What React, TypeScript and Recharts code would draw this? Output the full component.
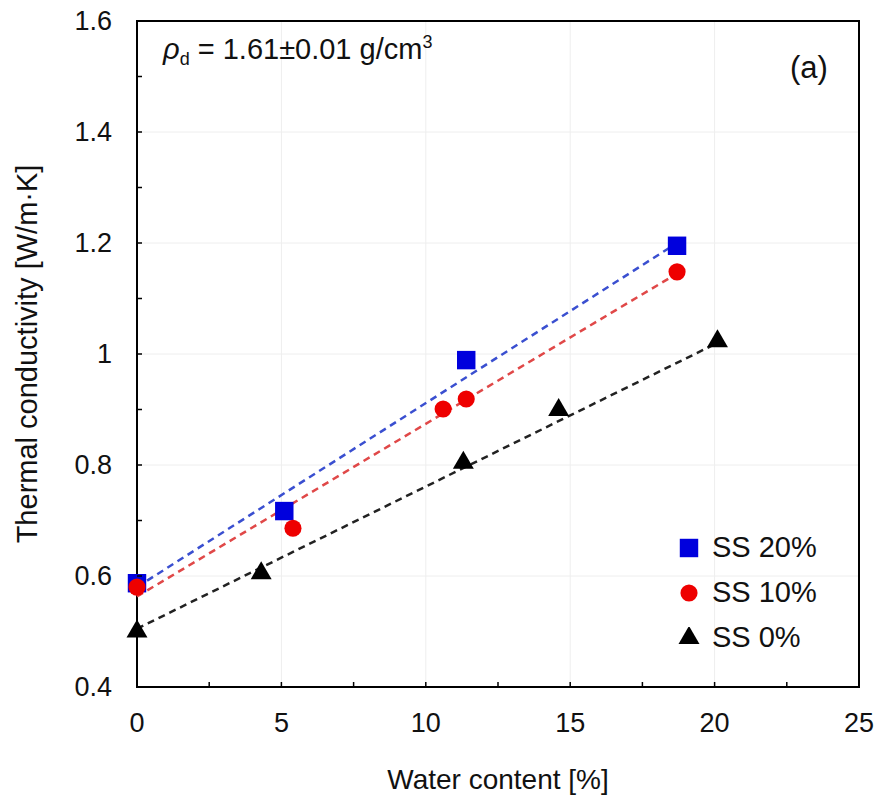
import {
  ScatterChart,
  Scatter,
  XAxis,
  YAxis,
  CartesianGrid,
  ReferenceArea,
  Legend,
  Symbols,
} from "recharts";

// measured points
const ss20X = [0, 5.1, 11.4, 18.7];
const ss20Y = [0.587, 0.717, 0.989, 1.195];
const ss10X = [0, 5.4, 10.6, 11.4, 18.7];
const ss10Y = [0.58, 0.686, 0.901, 0.919, 1.148];
const ss0X = [0, 4.3, 11.3, 14.6, 20.1];
const ss0Y = [0.5, 0.605, 0.804, 0.899, 1.023];

// dashed fit lines (end points)
const fit20X = [0, 18.7];
const fit20Y = [0.58, 1.2];
const fit10X = [0, 18.7];
const fit10Y = [0.563, 1.145];
const fit0X = [0, 20.1];
const fit0Y = [0.505, 1.02];

const xTicks = [0, 2.5, 5, 7.5, 10, 12.5, 15, 17.5, 20, 22.5, 25];
const yTicks = [0.4, 0.5, 0.6, 0.7, 0.8, 0.9, 1.0, 1.1, 1.2, 1.3, 1.4, 1.5, 1.6];
const xGrid = [5, 10, 15, 20];
const yGrid = [0.6, 0.8, 1.0, 1.2, 1.4];

const series = [
  { name: "SS 20%", color: "#0000dd", shape: "square", size: 340 },
  { name: "SS 10%", color: "#ee0000", shape: "circle", size: 230 },
  { name: "SS 0%", color: "#000000", shape: "triangle", size: 190 },
];

const FONT = "'Liberation Sans', Arial, sans-serif";

const pts = (xs: number[], ys: number[]) => xs.map((x, i) => ({ x, y: ys[i] }));

const YTick = (props: any) => {
  const { x, y, payload } = props;
  const v = payload.value;
  const major = Math.round(v * 10) % 2 === 0;
  return (
    <g>
      <line x1={x} x2={x + 5} y1={y} y2={y} stroke="#000" strokeWidth={1.5} />
      {major && (
        <text
          x={x - 25}
          y={y}
          textAnchor="end"
          dominantBaseline="central"
          fontSize={27}
          fontFamily={FONT}
          fill="#111"
        >
          {String(Math.round(v * 10) / 10)}
        </text>
      )}
    </g>
  );
};

const XTick = (props: any) => {
  const { x, y, payload } = props;
  const v = payload.value;
  const major = v % 5 === 0;
  return (
    <g>
      <line x1={x} x2={x} y1={y} y2={y - 5} stroke="#000" strokeWidth={1.5} />
      {major && (
        <text x={x} y={y + 45} textAnchor="middle" fontSize={27} fontFamily={FONT} fill="#111">
          {v}
        </text>
      )}
    </g>
  );
};

const noDot = () => <g />;

const marker = (s: (typeof series)[number]) => (p: any) => (
  <Symbols cx={p.cx} cy={p.cy} type={s.shape as any} size={s.size} fill={s.color} />
);

const LegendBox = () => (
  <div style={{ fontFamily: FONT, fontSize: 29, color: "#111" }}>
    {series.map((s) => (
      <div key={s.name} style={{ display: "flex", alignItems: "center", height: 45 }}>
        <svg width={22} height={22}>
          <Symbols cx={11} cy={11} type={s.shape as any} size={s.size} fill={s.color} />
        </svg>
        <span style={{ marginLeft: 12 }}>{s.name}</span>
      </div>
    ))}
  </div>
);

export default function App() {
  return (
    <div style={{ position: "absolute", left: 0, top: 0, width: 880, height: 801, background: "#fff" }}>
      <ScatterChart width={880} height={801} margin={{ top: 21, right: 21, bottom: 0, left: 0 }}>
        <CartesianGrid stroke="#eeeeee" horizontalValues={yGrid} verticalValues={xGrid} />
        <XAxis
          type="number"
          dataKey="x"
          domain={[0, 25]}
          ticks={xTicks}
          interval={0}
          height={114}
          tickSize={0}
          tickMargin={0}
          tick={<XTick />}
          axisLine={{ stroke: "#000", strokeWidth: 2 }}
          label={{
            value: "Water content [%]",
            position: "insideBottom",
            offset: 12,
            style: { fontSize: 28, fontFamily: FONT, fill: "#111" },
          }}
        />
        <YAxis
          type="number"
          dataKey="y"
          domain={[0.4, 1.6]}
          ticks={yTicks}
          interval={0}
          width={137}
          tickSize={0}
          tickMargin={0}
          tick={<YTick />}
          axisLine={{ stroke: "#000", strokeWidth: 2 }}
          label={{
            value: "Thermal conductivity [W/m·K]",
            angle: -90,
            position: "insideLeft",
            offset: 27,
            style: { fontSize: 29, fontFamily: FONT, fill: "#111", textAnchor: "middle" },
          }}
        />
        <ReferenceArea x1={0} x2={25} y1={0.4} y2={1.6} fill="none" stroke="#000" strokeWidth={2} />
        <Scatter
          data={pts(fit20X, fit20Y)}
          line={{ stroke: "#3a4fd0", strokeWidth: 2.5, strokeDasharray: "7 5" }}
          shape={noDot}
          legendType="none"
          isAnimationActive={false}
        />
        <Scatter
          data={pts(fit10X, fit10Y)}
          line={{ stroke: "#e04848", strokeWidth: 2.5, strokeDasharray: "7 5" }}
          shape={noDot}
          legendType="none"
          isAnimationActive={false}
        />
        <Scatter
          data={pts(fit0X, fit0Y)}
          line={{ stroke: "#222", strokeWidth: 2.5, strokeDasharray: "7 5" }}
          shape={noDot}
          legendType="none"
          isAnimationActive={false}
        />
        <Scatter name="SS 0%" data={pts(ss0X, ss0Y)} shape={marker(series[2])} isAnimationActive={false} />
        <Scatter name="SS 20%" data={pts(ss20X, ss20Y)} shape={marker(series[0])} isAnimationActive={false} />
        <Scatter name="SS 10%" data={pts(ss10X, ss10Y)} shape={marker(series[1])} isAnimationActive={false} />
        <Legend
          layout="vertical"
          align="center"
          verticalAlign="middle"
          content={<LegendBox />}
          wrapperStyle={{ top: 525, left: 678, width: 180 }}
        />
      </ScatterChart>
      <div
        style={{
          position: "absolute",
          left: 163,
          top: 32,
          fontFamily: FONT,
          fontSize: 29,
          color: "#111",
          whiteSpace: "nowrap",
        }}
      >
        <i>ρ</i>
        <sub style={{ fontSize: 18 }}>d</sub> = 1.61±0.01 g/cm<sup style={{ fontSize: 18 }}>3</sup>
      </div>
      <div
        style={{
          position: "absolute",
          left: 790,
          top: 50,
          fontFamily: FONT,
          fontSize: 31,
          color: "#111",
        }}
      >
        (a)
      </div>
    </div>
  );
}
